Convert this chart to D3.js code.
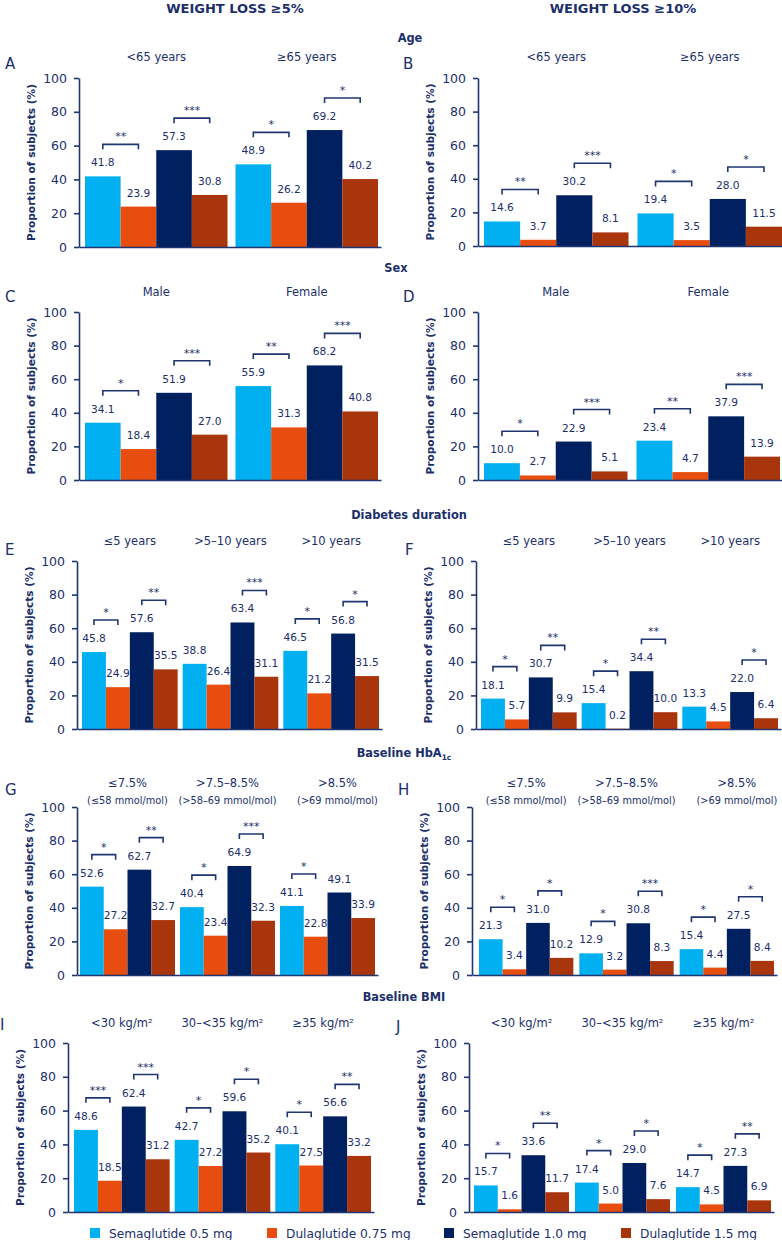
<!DOCTYPE html>
<html>
<head>
<meta charset="utf-8">
<script src="https://cdn.jsdelivr.net/npm/d3@7/dist/d3.min.js"></script>
<style>
  html, body { margin: 0; padding: 0; background: #ffffff; }
  svg { display: block; font-family: "DejaVu Sans", Verdana, sans-serif; }
</style>
</head>
<body>
<svg id="chart" width="782" height="1240"></svg>
<script>
// ---------------- DATA ----------------
const seriesNames = ["Semaglutide 0.5 mg", "Dulaglutide 0.75 mg", "Semaglutide 1.0 mg", "Dulaglutide 1.5 mg"];
const seriesColors = ["#00b0f0", "#e64d0e", "#00205f", "#a9350c"];
const yTickValues = [0, 20, 40, 60, 80, 100];

const columnTitles = ["WEIGHT LOSS ≥5%", "WEIGHT LOSS ≥10%"];
const sectionTitles = ["Age", "Sex", "Diabetes duration", "Baseline HbA", "Baseline BMI"];

const ageGroups = ["<65 years", "≥65 years"];
const sexGroups = ["Male", "Female"];
const durationGroups = ["≤5 years", ">5–10 years", ">10 years"];
const hba1cGroups = ["≤7.5%", ">7.5–8.5%", ">8.5%"];
const hba1cSubGroups = ["(≤58 mmol/mol)", "(>58–69 mmol/mol)", "(>69 mmol/mol)"];
const bmiGroups = ["<30 kg/m²", "30–<35 kg/m²", "≥35 kg/m²"];

// values per group: [Sema 0.5, Dula 0.75, Sema 1.0, Dula 1.5]
const valuesA = [[41.8, 23.9, 57.3, 30.8], [48.9, 26.2, 69.2, 40.2]];
const valuesB = [[14.6, 3.7, 30.2, 8.1], [19.4, 3.5, 28.0, 11.5]];
const valuesC = [[34.1, 18.4, 51.9, 27.0], [55.9, 31.3, 68.2, 40.8]];
const valuesD = [[10.0, 2.7, 22.9, 5.1], [23.4, 4.7, 37.9, 13.9]];
const valuesE = [[45.8, 24.9, 57.6, 35.5], [38.8, 26.4, 63.4, 31.1], [46.5, 21.2, 56.8, 31.5]];
const valuesF = [[18.1, 5.7, 30.7, 9.9], [15.4, 0.2, 34.4, 10.0], [13.3, 4.5, 22.0, 6.4]];
const valuesG = [[52.6, 27.2, 62.7, 32.7], [40.4, 23.4, 64.9, 32.3], [41.1, 22.8, 49.1, 33.9]];
const valuesH = [[21.3, 3.4, 31.0, 10.2], [12.9, 3.2, 30.8, 8.3], [15.4, 4.4, 27.5, 8.4]];
const valuesI = [[48.6, 18.5, 62.4, 31.2], [42.7, 27.2, 59.6, 35.2], [40.1, 27.5, 56.6, 33.2]];
const valuesJ = [[15.7, 1.6, 33.6, 11.7], [17.4, 5.0, 29.0, 7.6], [14.7, 4.5, 27.3, 6.9]];

// significance: [Sema0.5 vs Dula0.75, Sema1.0 vs Dula1.5] per group
const sigA = [["**", "***"], ["*", "*"]];
const sigB = [["**", "***"], ["*", "*"]];
const sigC = [["*", "***"], ["**", "***"]];
const sigD = [["*", "***"], ["**", "***"]];
const sigE = [["*", "**"], [null, "***"], ["*", "*"]];
const sigF = [["*", "**"], ["*", "**"], [null, "*"]];
const sigG = [["*", "**"], ["*", "***"], ["*", null]];
const sigH = [["*", "*"], ["*", "***"], ["*", "*"]];
const sigI = [["***", "***"], ["*", "*"], ["*", "**"]];
const sigJ = [["*", "**"], ["*", "*"], ["*", "**"]];

// ---------------- LAYOUT ----------------
const textColor = "#1b2f6b";
const axisColor = "#1f3670";

const panels = [
  {letter: "A", groups: ageGroups, values: valuesA, sig: sigA, axisX: 79, barStart: 85, barEnd: 378, gap: 8, y100: 78, y0: 247, labelY: 61, lx: 5, ly: 69},
  {letter: "B", groups: ageGroups, values: valuesB, sig: sigB, axisX: 478, barStart: 484, barEnd: 782, gap: 9, y100: 78, y0: 246, labelY: 61, lx: 403, ly: 69},
  {letter: "C", groups: sexGroups, values: valuesC, sig: sigC, axisX: 79, barStart: 85, barEnd: 378, gap: 8, y100: 312, y0: 480, labelY: 296, lx: 5, ly: 302},
  {letter: "D", groups: sexGroups, values: valuesD, sig: sigD, axisX: 478, barStart: 484, barEnd: 780, gap: 9, y100: 312, y0: 480, labelY: 296, lx: 403, ly: 302},
  {letter: "E", groups: durationGroups, values: valuesE, sig: sigE, axisX: 77, barStart: 82, barEnd: 379, gap: 5, y100: 561, y0: 729, labelY: 545, lx: 5, ly: 555},
  {letter: "F", groups: durationGroups, values: valuesF, sig: sigF, axisX: 476, barStart: 481, barEnd: 778, gap: 5, y100: 561, y0: 729, labelY: 545, lx: 405, ly: 555},
  {letter: "G", groups: hba1cGroups, sub: hba1cSubGroups, values: valuesG, sig: sigG, axisX: 77, barStart: 80, barEnd: 375, gap: 5, y100: 807, y0: 975, labelY: 787, lx: 5, ly: 795, lastShift: 10},
  {letter: "H", groups: hba1cGroups, sub: hba1cSubGroups, values: valuesH, sig: sigH, axisX: 472, barStart: 479, barEnd: 774, gap: 6, y100: 807, y0: 975, labelY: 787, lx: 398, ly: 795, lastShift: 10},
  {letter: "I", groups: bmiGroups, values: valuesI, sig: sigI, axisX: 68, barStart: 74, barEnd: 371, gap: 5, y100: 1043, y0: 1212, labelY: 1027, lx: 0, ly: 1030},
  {letter: "J", groups: bmiGroups, values: valuesJ, sig: sigJ, axisX: 469, barStart: 474, barEnd: 771, gap: 6, y100: 1043, y0: 1212, labelY: 1027, lx: 396, ly: 1032}
];

const svg = d3.select("#chart");

// Column titles
const colTitleX = [235, 623];
svg.selectAll("text.coltitle").data(columnTitles).join("text")
  .attr("class", "coltitle")
  .attr("x", (d, i) => colTitleX[i]).attr("y", 13)
  .attr("text-anchor", "middle")
  .attr("font-size", 13).attr("font-weight", "bold")
  .attr("fill", textColor).text(d => d);

// Section titles
const sectionPos = [[410, 42], [396, 272], [409, 519], [404, 757], [404, 1001]];
sectionTitles.forEach((t, i) => {
  const tx = svg.append("text")
    .attr("x", sectionPos[i][0]).attr("y", sectionPos[i][1])
    .attr("text-anchor", "middle")
    .attr("font-size", 11.4).attr("font-weight", "bold")
    .attr("fill", textColor);
  tx.append("tspan").text(t);
  if (i === 3) {
    tx.append("tspan").attr("font-size", 7.5).attr("dy", 3).text("1c");
  }
});

function drawPanel(p) {
  const g = svg.append("g");
  const n = p.groups.length;
  const W = p.barEnd - p.barStart;
  const bw = (W - (n - 1) * p.gap) / n;
  const pad = p.gap / (bw + p.gap);

  const x0 = d3.scaleBand().domain(p.groups).range([p.barStart, p.barEnd]).paddingInner(pad).paddingOuter(0);
  const x1 = d3.scaleBand().domain(d3.range(seriesNames.length)).range([0, x0.bandwidth()]).padding(0);
  const y = d3.scaleLinear().domain([0, 100]).range([p.y0, p.y100]);

  // panel letter
  g.append("text").attr("x", p.lx).attr("y", p.ly)
    .attr("font-size", 15).attr("fill", textColor).text(p.letter);

  // group labels
  p.groups.forEach((grp, gi) => {
    const cx = x0(grp) + x0.bandwidth() / 2 + (p.lastShift && gi === n - 1 ? p.lastShift : 0);
    g.append("text").attr("x", cx).attr("y", p.labelY)
      .attr("text-anchor", "middle").attr("font-size", 11.5)
      .attr("fill", textColor).text(grp);
    if (p.sub) {
      g.append("text").attr("x", cx).attr("y", p.labelY + 17)
        .attr("text-anchor", "middle").attr("font-size", 9.8)
        .attr("fill", textColor).text(p.sub[gi]);
    }
  });

  // bars
  const groupsSel = g.selectAll("g.grp").data(p.values).join("g")
    .attr("transform", (d, i) => `translate(${x0(p.groups[i])},0)`);
  groupsSel.selectAll("rect").data(d => d).join("rect")
    .attr("x", (d, i) => x1(i)).attr("width", x1.bandwidth())
    .attr("y", d => y(d)).attr("height", d => y(0) - y(d))
    .attr("fill", (d, i) => seriesColors[i]);
  groupsSel.selectAll("text.val").data(d => d).join("text")
    .attr("class", "val")
    .attr("x", (d, i) => x1(i) + x1.bandwidth() / 2)
    .attr("y", d => y(d) - 10)
    .attr("text-anchor", "middle").attr("font-size", 10.6)
    .attr("fill", textColor).text(d => d.toFixed(1));

  // significance brackets
  p.values.forEach((vals, gi) => {
    const gx = x0(p.groups[gi]);
    [[0, 1], [2, 3]].forEach((pair, pi) => {
      const s = p.sig[gi][pi];
      if (!s) return;
      const xa = gx + x1(pair[0]) + x1.bandwidth() / 2;
      const xb = gx + x1(pair[1]) + x1.bandwidth() / 2;
      const top = y(Math.max(vals[pair[0]], vals[pair[1]])) - 32;
      g.append("path")
        .attr("d", `M${xa},${top + 5}V${top}H${xb}V${top + 5}`)
        .attr("fill", "none").attr("stroke", axisColor).attr("stroke-width", 1.6);
      g.append("text").attr("x", (xa + xb) / 2).attr("y", top - 4)
        .attr("text-anchor", "middle").attr("font-size", 11)
        .attr("fill", textColor).text(s);
    });
  });

  // y axis
  const yAxis = g.append("g").attr("transform", `translate(${p.axisX},0)`)
    .call(d3.axisLeft(y).tickValues(yTickValues).tickSize(5).tickSizeOuter(0).tickPadding(7));
  yAxis.select(".domain").attr("stroke", axisColor).attr("stroke-width", 1.6);
  yAxis.selectAll(".tick line").attr("stroke", axisColor).attr("stroke-width", 1.6);
  yAxis.selectAll(".tick text").attr("fill", textColor).attr("font-size", 12.5)
    .attr("font-family", "DejaVu Sans, Verdana, sans-serif");

  // x axis baseline
  const xAxisScale = d3.scaleLinear().domain([0, 1]).range([p.axisX, p.barEnd + 3]);
  const xAxis = g.append("g").attr("transform", `translate(0,${y(0)})`)
    .call(d3.axisBottom(xAxisScale).tickValues([]).tickSizeOuter(0));
  xAxis.select(".domain").attr("stroke", axisColor).attr("stroke-width", 1.6);

  // y title
  g.append("text")
    .attr("transform", `translate(${p.axisX - 44},${(p.y0 + p.y100) / 2}) rotate(-90)`)
    .attr("text-anchor", "middle").attr("font-size", 10.6).attr("font-weight", "bold")
    .attr("fill", textColor).text("Proportion of subjects (%)");
}

panels.forEach(drawPanel);

// legend
const legendX = [90, 267, 444, 621];
const legend = svg.append("g");
seriesNames.forEach((name, i) => {
  legend.append("rect").attr("x", legendX[i]).attr("y", 1228).attr("width", 10).attr("height", 10)
    .attr("fill", seriesColors[i]);
  legend.append("text").attr("x", legendX[i] + 19).attr("y", 1238)
    .attr("font-size", 12.2).attr("fill", textColor).text(name);
});
</script>
</body>
</html>
